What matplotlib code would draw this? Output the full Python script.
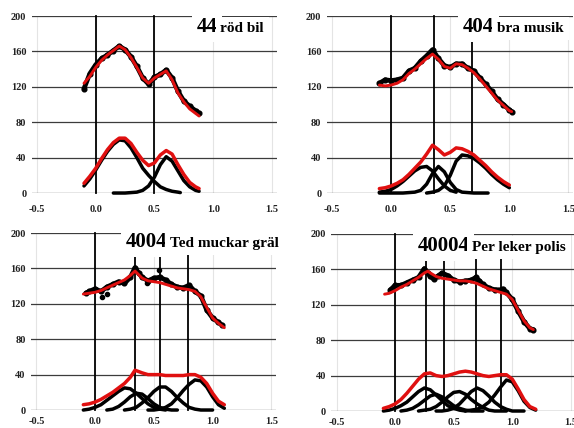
import numpy as np
import matplotlib
matplotlib.use("Agg")
import matplotlib.pyplot as plt
from matplotlib import transforms

# ---------------- data ----------------
titles_num = ["44", "404", "4004", "40004"]
titles_txt = ["röd bil", "bra musik", "Ted muckar gräl", "Per leker polis"]
x_ticks = [-0.5, 0.0, 0.5, 1.0, 1.5]
x_tick_labels = ["-0.5", "0.0", "0.5", "1.0", "1.5"]
y_ticks = [0, 40, 80, 120, 160, 200]

# panel 1 : 44 röd bil
p1_x = [-0.10, -0.05, 0.00, 0.05, 0.10, 0.15, 0.20, 0.25, 0.30, 0.35, 0.40, 0.45, 0.50, 0.55, 0.60, 0.65, 0.70, 0.75, 0.80, 0.85, 0.88]
p1_data = [118, 135, 145, 152, 156, 161, 166, 162, 154, 143, 130, 123, 131, 134, 139, 130, 115, 104, 98, 93, 90]
p1_fit = [124, 132, 142, 150, 156, 161, 166, 162, 153, 142, 130, 124, 130, 134, 138, 128, 113, 103, 95, 90, 87]
p1_sum = [11, 19, 28, 39, 49, 57, 62, 62, 56, 46, 37, 31, 34, 43, 48, 44, 32, 21, 12, 7, 5]
p1_g1_x = [-0.10, -0.05, 0.00, 0.05, 0.10, 0.15, 0.20, 0.25, 0.30, 0.35, 0.40, 0.45, 0.50, 0.55, 0.60, 0.65, 0.70, 0.72]
p1_g1 = [8, 16, 26, 37, 47, 55, 60, 59, 51, 40, 28, 20, 13, 7, 4, 2, 1, 0.5]
p1_g2_x = [0.15, 0.20, 0.25, 0.30, 0.35, 0.40, 0.45, 0.50, 0.55, 0.60, 0.65, 0.70, 0.75, 0.80, 0.85, 0.88]
p1_g2 = [0, 0, 0, 0.5, 1, 3, 8, 18, 32, 41, 36, 25, 14, 7, 3, 2]
p1_vlines = [0.0, 0.5]
p1_vtops = [200, 200]

# panel 2 : 404 bra musik
p2_x = [-0.10, -0.05, 0.00, 0.05, 0.10, 0.15, 0.20, 0.25, 0.30, 0.35, 0.40, 0.45, 0.50, 0.55, 0.60, 0.65, 0.70, 0.75, 0.80, 0.85, 0.90, 0.95, 1.00, 1.02]
p2_data = [124, 128, 127, 128, 130, 138, 141, 149, 155, 162, 152, 144, 142, 146, 146, 141, 138, 130, 123, 115, 106, 100, 94, 92]
p2_fit = [122, 121, 122, 124, 128, 135, 140, 146, 152, 157, 151, 143, 141, 146, 145, 141, 136, 129, 121, 113, 105, 99, 93, 92]
p2_sum_x = [-0.10, -0.05, 0.00, 0.05, 0.10, 0.15, 0.20, 0.25, 0.30, 0.35, 0.40, 0.45, 0.50, 0.55, 0.60, 0.65, 0.70, 0.75, 0.80, 0.85, 0.90, 0.95, 1.00]
p2_sum = [5, 6, 8, 11, 15, 21, 28, 35, 44, 54, 49, 43, 46, 51, 50, 47, 43, 37, 31, 24, 18, 13, 9]
p2_g1_x = [-0.10, -0.05, 0.00, 0.05, 0.10, 0.15, 0.20, 0.25, 0.30, 0.35, 0.40, 0.45, 0.50, 0.55]
p2_g1 = [1, 2, 4, 8, 13, 19, 25, 29, 30, 25, 16, 8, 3, 1]
p2_g2_x = [-0.10, 0.00, 0.10, 0.20, 0.25, 0.30, 0.35, 0.40, 0.45, 0.50, 0.55, 0.60, 0.70, 0.82]
p2_g2 = [0, 0, 0, 1, 3, 10, 22, 30, 24, 12, 4, 1, 0, 0]
p2_g3_x = [0.30, 0.35, 0.40, 0.45, 0.50, 0.55, 0.60, 0.65, 0.70, 0.75, 0.80, 0.85, 0.90, 0.95, 1.00]
p2_g3 = [0, 1, 3, 8, 20, 36, 43, 42, 39, 34, 28, 21, 15, 10, 6]
p2_vlines = [0.0, 0.36, 0.68]
p2_vtops = [200, 200, 184]

# panel 3 : 4004 Ted muckar gräl
p3_data_x = [-0.08, -0.05, 0.00, 0.05, 0.10, 0.15, 0.20, 0.25, 0.30, 0.34, 0.37, 0.40, 0.45, 0.50, 0.55, 0.60, 0.65, 0.70, 0.75, 0.80, 0.85, 0.90, 0.95, 1.00, 1.05, 1.08]
p3_data = [132, 134, 137, 134, 139, 142, 145, 143, 150, 161, 155, 150, 146, 149, 150, 147, 142, 139, 138, 141, 134, 129, 113, 104, 99, 96]
p3_out_x = [0.06, 0.10, 0.44, 0.54]
p3_out = [128, 131, 143, 158]
p3_fit_x = [-0.10, -0.05, 0.00, 0.05, 0.10, 0.15, 0.20, 0.25, 0.30, 0.34, 0.40, 0.45, 0.50, 0.55, 0.60, 0.65, 0.70, 0.75, 0.80, 0.85, 0.90, 0.95, 1.00, 1.05, 1.10]
p3_fit = [131, 132, 133, 135, 138, 141, 144, 147, 152, 157, 149, 146, 145, 144, 142, 140, 138, 137, 136, 134, 128, 116, 104, 98, 93]
p3_sum_x = [-0.10, -0.05, 0.00, 0.05, 0.10, 0.15, 0.20, 0.25, 0.30, 0.34, 0.40, 0.45, 0.50, 0.55, 0.60, 0.65, 0.70, 0.75, 0.80, 0.85, 0.90, 0.95, 1.00, 1.05, 1.10]
p3_sum = [6, 7, 9, 12, 16, 20, 25, 30, 37, 45, 42, 40, 40, 40, 39, 39, 39, 39, 40, 40, 37, 30, 19, 10, 6]
p3_g1_x = [-0.10, -0.05, 0.00, 0.05, 0.10, 0.15, 0.20, 0.25, 0.30, 0.35, 0.40, 0.45, 0.50, 0.55, 0.60]
p3_g1 = [0, 1, 3, 6, 11, 16, 21, 25, 24, 19, 13, 7, 3, 1, 0]
p3_g2_x = [0.10, 0.15, 0.20, 0.25, 0.30, 0.35, 0.40, 0.45, 0.50, 0.55, 0.60, 0.65, 0.70]
p3_g2 = [0, 1, 4, 9, 15, 19, 18, 13, 7, 3, 1, 0, 0]
p3_g3_x = [0.25, 0.30, 0.35, 0.40, 0.45, 0.50, 0.55, 0.60, 0.65, 0.70, 0.75, 0.80, 0.85, 0.90, 1.00]
p3_g3 = [0, 1, 3, 8, 14, 21, 26, 26, 21, 14, 8, 3, 1, 0, 0]
p3_g4_x = [0.45, 0.50, 0.55, 0.60, 0.65, 0.70, 0.75, 0.80, 0.85, 0.90, 0.95, 1.00, 1.05, 1.10]
p3_g4 = [0, 0, 1, 3, 7, 14, 22, 29, 34, 33, 26, 15, 6, 2]
p3_vlines = [0.0, 0.34, 0.55, 0.79]
p3_vtops = [200, 179, 179, 179]

# panel 4 : 40004 Per leker polis
p4_data_x = [-0.04, 0.00, 0.05, 0.10, 0.15, 0.20, 0.25, 0.28, 0.30, 0.33, 0.37, 0.40, 0.45, 0.50, 0.55, 0.60, 0.65, 0.69, 0.72, 0.75, 0.80, 0.85, 0.90, 0.92, 0.95, 1.00, 1.05, 1.10, 1.15, 1.18]
p4_data = [137, 142, 142, 145, 148, 151, 161, 156, 152, 149, 153, 156, 153, 148, 146, 147, 148, 151, 147, 143, 139, 137, 137, 138, 134, 126, 113, 101, 93, 92]
p4_fit_x = [-0.09, -0.05, 0.00, 0.05, 0.10, 0.15, 0.20, 0.25, 0.28, 0.30, 0.35, 0.40, 0.45, 0.50, 0.55, 0.60, 0.65, 0.70, 0.75, 0.80, 0.85, 0.90, 0.95, 1.00, 1.05, 1.10, 1.15, 1.18]
p4_fit = [132, 133, 136, 140, 143, 147, 151, 156, 158, 156, 152, 150, 149, 148, 147, 147, 146, 144, 141, 138, 136, 134, 132, 126, 114, 102, 94, 92]
p4_sum_x = [-0.10, -0.05, 0.00, 0.05, 0.10, 0.15, 0.20, 0.25, 0.30, 0.35, 0.40, 0.45, 0.50, 0.55, 0.60, 0.65, 0.70, 0.75, 0.80, 0.85, 0.90, 0.95, 1.00, 1.05, 1.10, 1.15, 1.20]
p4_sum = [3, 5, 8, 13, 20, 28, 36, 42, 43, 40, 39, 40, 42, 44, 45, 44, 42, 40, 39, 40, 41, 41, 36, 25, 13, 5, 2]
p4_g1_x = [-0.10, -0.05, 0.00, 0.05, 0.10, 0.15, 0.20, 0.25, 0.30, 0.35, 0.40, 0.45, 0.50, 0.55, 0.60]
p4_g1 = [0, 1, 3, 6, 10, 16, 22, 26, 24, 18, 12, 6, 3, 1, 0]
p4_g2_x = [0.05, 0.10, 0.15, 0.20, 0.25, 0.30, 0.35, 0.40, 0.45, 0.50, 0.55, 0.60, 0.65, 0.75]
p4_g2 = [0, 1, 3, 7, 12, 17, 19, 16, 11, 6, 3, 1, 0, 0]
p4_g3_x = [0.20, 0.25, 0.30, 0.35, 0.40, 0.45, 0.50, 0.55, 0.60, 0.65, 0.70, 0.75, 0.80, 0.85, 0.95]
p4_g3 = [0, 1, 2, 5, 10, 16, 21, 22, 19, 13, 8, 4, 1, 0, 0]
p4_g4_x = [0.35, 0.40, 0.45, 0.50, 0.55, 0.60, 0.65, 0.70, 0.75, 0.80, 0.85, 0.90, 0.95, 1.00, 1.10]
p4_g4 = [0, 0, 1, 3, 8, 15, 22, 26, 23, 17, 10, 5, 2, 0, 0]
p4_g5_x = [0.60, 0.65, 0.70, 0.75, 0.80, 0.85, 0.90, 0.95, 1.00, 1.05, 1.10, 1.15, 1.20]
p4_g5 = [0, 1, 2, 5, 10, 18, 27, 35, 33, 23, 11, 4, 1]
p4_vlines = [0.0, 0.26, 0.42, 0.69, 0.90]
p4_vtops = [200, 174, 174, 174, 174]

panels = [
    dict(data=(p1_x, p1_data), fit=(p1_x, p1_fit), out=None, sum=(p1_x, p1_sum),
         gauss=[(p1_g1_x, p1_g1), (p1_g2_x, p1_g2)], vl=p1_vlines, vt=p1_vtops,
         rect=[0.0557, 0.549, 0.4268, 0.4136], tpos=(0.86, 182), xpad=8.5),
    dict(data=(p2_x, p2_data), fit=(p2_x, p2_fit), out=None, sum=(p2_sum_x, p2_sum),
         gauss=[(p2_g1_x, p2_g1), (p2_g2_x, p2_g2), (p2_g3_x, p2_g3)], vl=p2_vlines, vt=p2_vtops,
         rect=[0.5697, 0.549, 0.4294, 0.4136], tpos=(0.61, 182), xpad=8.5),
    dict(data=(p3_data_x, p3_data), fit=(p3_fit_x, p3_fit), out=(p3_out_x, p3_out), sum=(p3_sum_x, p3_sum),
         gauss=[(p3_g1_x, p3_g1), (p3_g2_x, p3_g2), (p3_g3_x, p3_g3), (p3_g4_x, p3_g4)], vl=p3_vlines, vt=p3_vtops,
         rect=[0.0545, 0.042, 0.427, 0.4136], tpos=(0.26, 184), xpad=5),
    dict(data=(p4_data_x, p4_data), fit=(p4_fit_x, p4_fit), out=None, sum=(p4_sum_x, p4_sum),
         gauss=[(p4_g1_x, p4_g1), (p4_g2_x, p4_g2), (p4_g3_x, p4_g3), (p4_g4_x, p4_g4), (p4_g5_x, p4_g5)],
         vl=p4_vlines, vt=p4_vtops,
         rect=[0.5775, 0.0397, 0.4258, 0.4136], tpos=(0.19, 181), xpad=5),
]

SERIF = ["Liberation Serif", "DejaVu Serif"]
fig = plt.figure(figsize=(5.74, 4.28), dpi=100)
fig.patch.set_facecolor("white")
renderer = fig.canvas.get_renderer()

for i, p in enumerate(panels):
    ax = fig.add_axes(p["rect"])
    ax.set_xlim(-0.543, 1.543)
    ax.set_ylim(0, 200)
    for s in ax.spines.values():
        s.set_visible(False)
    ax.set_axisbelow(True)
    ax.yaxis.grid(True, color="#3c3c3c", lw=0.9)
    ax.xaxis.grid(True, color="#e4e4e4", lw=0.8)
    ax.set_xticks(x_ticks)
    ax.set_xticklabels(x_tick_labels)
    ax.set_yticks(y_ticks)
    ax.tick_params(length=0, labelsize=7.5)
    ax.tick_params(axis="x", pad=p["xpad"])
    ax.tick_params(axis="y", pad=4)
    for lab in ax.get_xticklabels() + ax.get_yticklabels():
        lab.set_family(SERIF)
        lab.set_fontweight("bold")
        lab.set_color("#222222")

    for xv, top in zip(p["vl"], p["vt"]):
        ax.plot([xv, xv], [0, top], color="black", lw=1.3, zorder=2, clip_on=False)

    for gx, gy in p["gauss"]:
        ax.plot(gx, gy, color="black", lw=2.5, zorder=3, clip_on=False, solid_capstyle="round")
    sx, sy = p["sum"]
    ax.plot(sx, sy, color="#e01010", lw=2.5, zorder=4, clip_on=False, solid_capstyle="round")

    dx, dy = p["data"]
    ax.plot(dx, dy, color="black", lw=3.4, marker="o", ms=3.4, zorder=3, solid_capstyle="round")
    if p["out"] is not None:
        ox, oy = p["out"]
        ax.plot(ox, oy, ls="none", marker="o", ms=3, color="black", zorder=3)
    fx, fy = p["fit"]
    ax.plot(fx, fy, color="#e01010", lw=2.1, zorder=4, solid_capstyle="round")

    tx, ty = p["tpos"]
    t1 = ax.text(tx, ty, titles_num[i], fontsize=15, fontweight="bold", family=SERIF,
                 ha="left", va="baseline", zorder=6, clip_on=False,
                 bbox=dict(fc="white", ec="none", pad=3.5))
    w = t1.get_window_extent(renderer).width
    tr = transforms.offset_copy(ax.transData, fig=fig, x=w + 3, y=0, units="dots")
    ax.text(tx, ty, titles_txt[i], fontsize=11, fontweight="bold", family=SERIF,
            ha="left", va="baseline", zorder=6, clip_on=False, transform=tr,
            bbox=dict(fc="white", ec="none", pad=3.5))

fig.savefig("out.png", dpi=100, facecolor="white")
